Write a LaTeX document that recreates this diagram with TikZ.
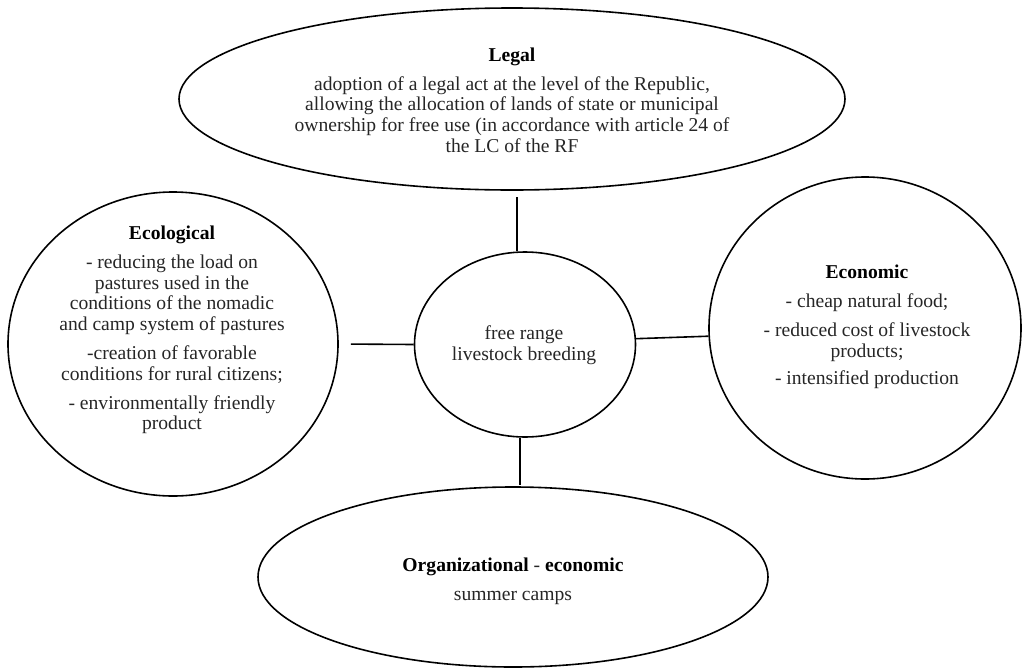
\documentclass[tikz,border=0pt]{standalone}
\usepackage{fontspec}
\setmainfont{Liberation Serif}
\usetikzlibrary{shapes.geometric}

\begin{document}
\begin{tikzpicture}[x=0.75pt,y=0.75pt,yscale=-1,xscale=1,
  oval/.style={draw, ellipse, line width=1.2pt, inner sep=0pt},
  txt/.style={align=center, inner sep=0.75pt, text=black!85, font=\fontsize{14.7}{15.4}\selectfont},
  link/.style={line width=1.2pt}]
\useasboundingbox (0,0) rectangle (1022,668);

%Shape: Ellipse
\node [oval, minimum width=499.5pt, minimum height=136.5pt] (legal) at (512,99) {};
%Shape: Ellipse
\node [oval, minimum width=165.75pt, minimum height=138.75pt] (hub) at (525,344.5) {};
%Shape: Ellipse
\node [oval, minimum width=247.5pt, minimum height=228pt] (eco) at (173,344) {};
%Shape: Ellipse
\node [oval, minimum width=234pt, minimum height=226.5pt] (econ) at (865,328) {};
%Shape: Ellipse
\node [oval, minimum width=382.5pt, minimum height=135pt] (org) at (513,577) {};

%Straight Lines
\draw [link, shorten >=4.5pt] (hub.95) -- (hub.95 |- legal.south) ;
\draw [link, shorten >=1pt] (hub.267) -- (hub.267 |- org.north) ;
\draw [link, shorten >=9pt] (hub.west) -- (eco.east) ;
\draw [link] (hub.3) -- (econ.183) ;

% Text Node
\node [txt] (legaltxt) at (512,100) {{\color{black}\bfseries Legal}\\[6.4pt]
  adoption of a legal act at the level of the Republic,\\
  allowing the allocation of lands of state or municipal\\
  ownership for free use (in accordance with article 24 of\\
  the LC of the RF};
% Text Node
\node [txt] (ecotxt) at (172,330) {{\color{black}\bfseries Ecological}\\[6.4pt]
  - reducing the load on\\ pastures used in the\\ conditions of the nomadic\\ and camp system of pastures\\[6.4pt]
  -creation of favorable\\ conditions for rural citizens;\\[6.4pt]
  - environmentally friendly\\ product};
% Text Node
\node [txt] (econtxt) at (867,327) {{\color{black}\bfseries Economic}\\[6.4pt]
  - cheap natural food;\\[6.4pt]
  - reduced cost of livestock\\ products;\\[5pt]
  - intensified production};
% Text Node
\node [txt] (hubtxt) at (524,345) {free range\\ livestock breeding};
% Text Node
\node [txt] (orgtxt) at (513,581) {{\color{black}\bfseries Organizational} - {\color{black}\bfseries economic}\\[6.4pt]
  summer camps};

\end{tikzpicture}
\end{document}
